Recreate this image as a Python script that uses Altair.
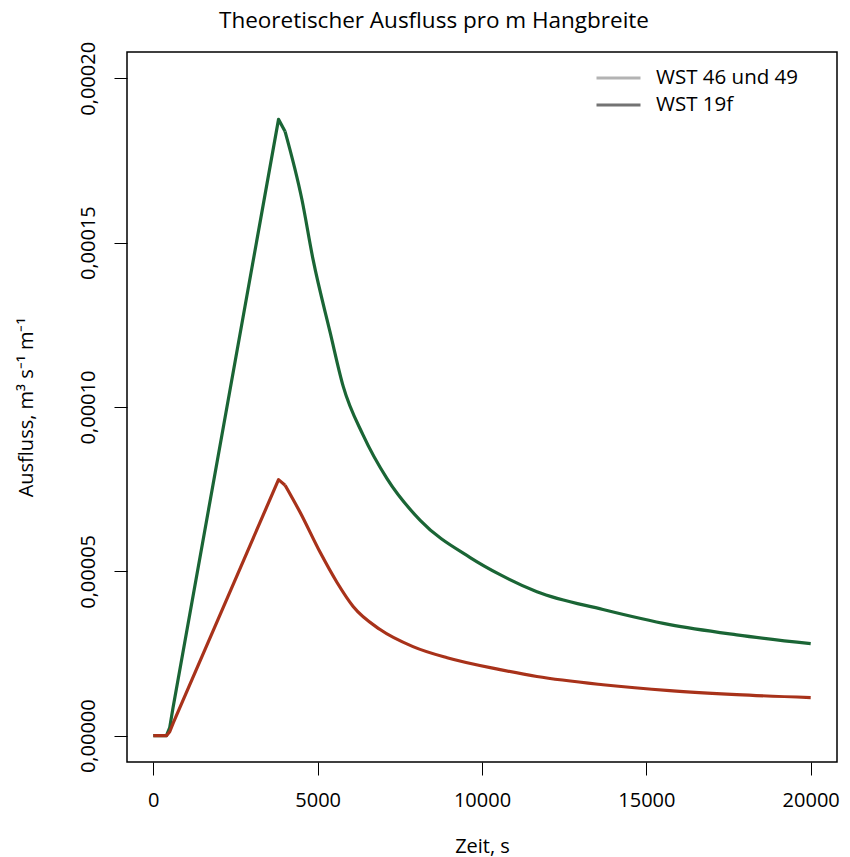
import altair as alt
import pandas as pd

# Time axis (s) and discharge values (m^3 s^-1 m^-1)
green_t = [0, 400, 500, 600, 3810, 4010, 4520, 4860, 5380, 5780, 6380, 7110, 8120,
           9640, 10550, 11670, 13680, 15710, 17750, 20000]
green_q = [0.0, 0.0, 0.0000025, 0.0000085, 0.0001875, 0.0001838, 0.0001632, 0.0001449,
           0.0001227, 0.0001062, 0.0000915, 0.0000782, 0.0000655, 0.0000542, 0.0000490,
           0.0000438, 0.0000384, 0.0000338, 0.0000307, 0.0000280]

red_t = [0, 400, 500, 610, 3810, 4010, 4470, 5080, 5590, 6080, 6900, 7900, 8940,
         10550, 11670, 13680, 15710, 17750, 20000]
red_q = [0.0, 0.0, 0.0000012, 0.0000040, 0.0000779, 0.0000762, 0.0000679, 0.0000557,
         0.0000466, 0.0000393, 0.0000323, 0.0000271, 0.0000237, 0.0000201, 0.0000180,
         0.0000155, 0.0000137, 0.0000125, 0.0000116]

legend_names = ["WST 46 und 49", "WST 19f"]
legend_colors = ["#b3b3b3", "#737373"]

x_ticks = [0, 5000, 10000, 15000, 20000]
y_ticks = [0.0, 0.00005, 0.0001, 0.00015, 0.0002]

FONT = "Open Sans"
PEAK_END = 4010  # the rising limb ends at the kink after the peak

green_df = pd.DataFrame({"t": green_t, "q": green_q})
red_df = pd.DataFrame({"t": red_t, "q": red_q})
legend_df = pd.DataFrame({"t": [0, 0], "q": [0.0, 0.0], "serie": legend_names})

xscale = alt.Scale(domain=[-800, 20800], nice=False, zero=False)
yscale = alt.Scale(domain=[-0.000008, 0.000208], nice=False, zero=False)

xaxis = alt.Axis(values=x_ticks, title="Zeit, s", grid=False, domain=False, format="d",
                 tickSize=13, tickColor="black", tickWidth=1,
                 labelFontSize=20, labelFont=FONT, labelColor="black", labelPadding=15,
                 titleFontSize=20, titleFont=FONT, titleFontWeight="normal",
                 titleColor="black", titlePadding=26, labelFlush=False)
yaxis = alt.Axis(values=y_ticks, title="Ausfluss, m³ s⁻¹ m⁻¹", grid=False, domain=False,
                 tickSize=13, tickColor="black", tickWidth=1,
                 labelExpr="replace(format(datum.value, '.5f'), '.', ',')",
                 labelAngle=270, labelAlign="center", labelBaseline="bottom",
                 labelFontSize=20, labelFont=FONT, labelColor="black", labelPadding=16,
                 titleFontSize=20, titleFont=FONT, titleFontWeight="normal",
                 titleColor="black", titlePadding=42, labelFlush=False)

X = alt.X("t:Q", scale=xscale, axis=xaxis)
Y = alt.Y("q:Q", scale=yscale, axis=yaxis)


def series(df, color):
    rise = alt.Chart(df[df["t"] <= PEAK_END]).mark_line(
        color=color, strokeWidth=3.2, strokeJoin="round").encode(x=X, y=Y)
    fall = alt.Chart(df[df["t"] >= PEAK_END]).mark_line(
        color=color, strokeWidth=3.2, interpolate="monotone").encode(x=X, y=Y)
    return [rise, fall]


leg = alt.Chart(legend_df).mark_line(opacity=0, strokeWidth=3).encode(
    x=X, y=Y,
    color=alt.Color("serie:N",
                    scale=alt.Scale(domain=legend_names, range=legend_colors),
                    legend=alt.Legend(title=None, orient="none", legendX=468, legendY=14,
                                      symbolType="stroke", symbolSize=1936,
                                      symbolStrokeWidth=3, symbolOpacity=1,
                                      clipHeight=24,
                                      labelFontSize=20.5, labelFont=FONT,
                                      labelColor="black", labelOffset=14,
                                      rowPadding=3, padding=0)),
)

layers = series(green_df, "#1a6535") + series(red_df, "#a8321a") + [leg]

chart = alt.layer(*layers).properties(
    width=710, height=710,
    title=alt.TitleParams("Theoretischer Ausfluss pro m Hangbreite", fontSize=22.5,
                          font=FONT, fontWeight="normal", color="black",
                          anchor="middle", dx=-48, offset=9),
    padding={"left": 127, "top": 52, "right": 13, "bottom": 95},
    autosize=alt.AutoSizeParams(type="none"),
    background="white",
).configure_view(stroke="black", strokeWidth=1.5)

chart.save("out.html", embed_options={"renderer": "svg", "actions": False})
